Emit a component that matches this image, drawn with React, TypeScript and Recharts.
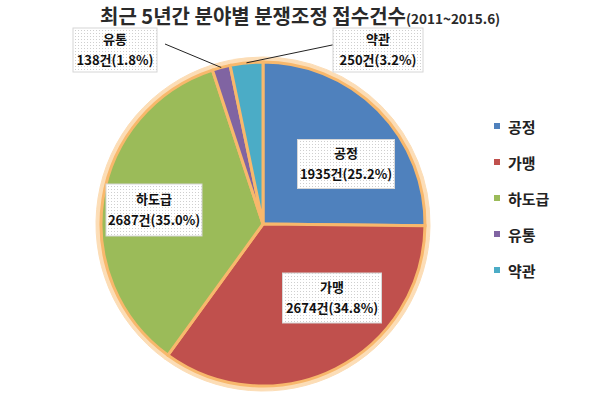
import React from 'react';
import { PieChart, Pie, Cell, Legend } from 'recharts';

const categories = ['공정', '가맹', '하도급', '유통', '약관'];
const counts = [1935, 2674, 2687, 138, 250];
const shares = ['25.2', '34.8', '35.0', '1.8', '3.2'];
const colors = ['#4F81BD', '#C0504D', '#9BBB59', '#8064A2', '#4BACC6'];

const chartData = categories.map((name, i) => ({ name, value: counts[i], share: shares[i] }));

// label box centre, relative to the pie centre; box size; outside labels get a leader line
const labelOffsets = [[83, -60], [69, 74], [-109, -14], [-148, -174], [115, -174]];
const labelSizes = [[97, 49], [99, 50], [96, 52], [84, 44], [90, 44]];
const FONT = '"Noto Sans CJK KR", "Noto Sans", sans-serif';
const RADIAN = Math.PI / 180;

const renderLabel = (props: any) => {
  const { cx, cy, midAngle, outerRadius, index, name, value } = props;
  const [ox, oy] = labelOffsets[index];
  const [w, h] = labelSizes[index];
  const bx = cx + ox;
  const by = cy + oy;
  const outside = index >= 3;
  let line = null;
  if (outside) {
    const ex = cx + outerRadius * Math.cos(-midAngle * RADIAN);
    const ey = cy + outerRadius * Math.sin(-midAngle * RADIAN);
    const sx = ox < 0 ? bx + w / 2 + 8 : bx - w / 2 + 4;
    const sy = by - 6;
    line = <line x1={sx} y1={sy} x2={ex} y2={ey} stroke="#222" strokeWidth={1} />;
  }
  return (
    <g>
      <defs>
        <pattern id={`dots${index}`} width="3" height="3" patternUnits="userSpaceOnUse">
          <rect width="3" height="3" fill="#ffffff" />
          <rect width="1" height="1" fill="#cfcfcf" />
        </pattern>
      </defs>
      {line}
      <rect x={bx - w / 2} y={by - h / 2} width={w} height={h} fill={`url(#dots${index})`} stroke="#d6d6d6" strokeWidth={1} />
      <text x={bx} y={by - 6} textAnchor="middle" fontFamily={FONT} fontWeight={700} fontSize={13} fill="#111">
        {name}
      </text>
      <text x={bx} y={by + 15} textAnchor="middle" fontFamily={FONT} fontWeight={700} fontSize={13} fill="#111">
        {`${value}건(${chartData[index].share}%)`}
      </text>
    </g>
  );
};

const renderLegend = () => (
  <div style={{ fontFamily: FONT }}>
    {categories.map((c, i) => (
      <div key={c} style={{ height: 36, display: 'flex', alignItems: 'center' }}>
        <span style={{ width: 6, height: 6, background: colors[i], marginRight: 8, display: 'inline-block' }} />
        <span style={{ fontSize: 15, fontWeight: 700, color: '#222' }}>{c}</span>
      </div>
    ))}
  </div>
);

export default function App() {
  return (
    <div style={{ position: 'absolute', left: 0, top: 0, width: 599, height: 397, background: '#fff' }}>
      <div
        style={{
          position: 'absolute',
          left: 100,
          top: 1,
          whiteSpace: 'nowrap',
          fontFamily: FONT,
          fontWeight: 700,
          color: '#2a2a2a',
          zIndex: 2,
        }}
      >
        <span style={{ fontSize: 20 }}>최근 5년간 분야별 분쟁조정 접수건수</span>
        <span style={{ fontSize: 13.5 }}>(2011~2015.6)</span>
      </div>
      <PieChart width={599} height={397} margin={{ top: 0, right: 0, bottom: 0, left: 0 }}>
        <Pie
          data={chartData}
          dataKey="value"
          cx={263}
          cy={224}
          outerRadius={167}
          startAngle={90}
          endAngle={-270}
          fill="#FCDDB6"
          stroke="none"
          isAnimationActive={false}
          legendType="none"
        >
          {chartData.map((d) => (
            <Cell key={d.name} fill="#FCDDB6" stroke="#FCDDB6" />
          ))}
        </Pie>
        <Pie
          data={chartData}
          dataKey="value"
          nameKey="name"
          cx={263}
          cy={224}
          outerRadius={162}
          startAngle={90}
          endAngle={-270}
          stroke="#F8B86C"
          strokeWidth={3}
          label={renderLabel}
          labelLine={false}
          isAnimationActive={false}
        >
          {chartData.map((d, i) => (
            <Cell key={d.name} fill={colors[i]} />
          ))}
        </Pie>
        <Legend
          content={renderLegend}
          wrapperStyle={{ position: 'absolute', left: 494, top: 108, width: 100 }}
        />
      </PieChart>
    </div>
  );
}
